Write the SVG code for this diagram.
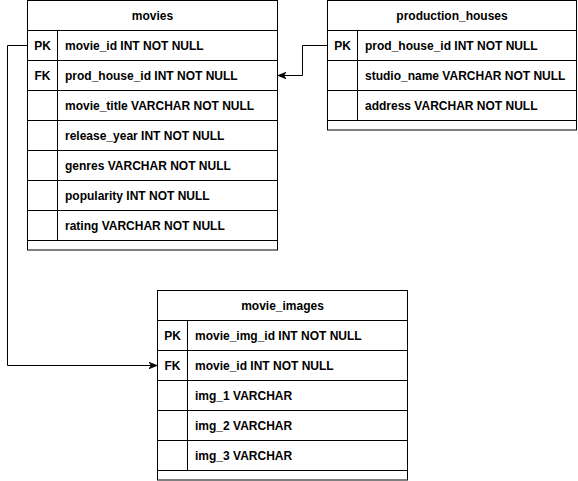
<svg xmlns="http://www.w3.org/2000/svg" width="578" height="481" viewBox="0 0 578 481">
<defs>
<style>
.box{fill:#fff;stroke:#000;stroke-width:1}
.ln{stroke:#000;stroke-width:1;fill:none}
text{font-family:"Liberation Sans",Arial,sans-serif;font-size:12px;font-weight:bold;fill:#000;dominant-baseline:central}
.h{text-anchor:middle}
.k{text-anchor:middle}
</style>
<marker id="arr" viewBox="0 0 10 10" refX="10" refY="5" markerWidth="8" markerHeight="8" markerUnits="userSpaceOnUse" orient="auto">
<path d="M0,1 L10,5 L0,9 L3,5 Z" fill="#000" stroke="#000" stroke-width="1"/>
</marker>
</defs>
<g id="connectors">
<path class="ln" d="M27.5,45.5 H7.5 V365.5 H157" marker-end="url(#arr)"/>
<path class="ln" d="M327.5,45.5 H302.5 V75.5 H278" marker-end="url(#arr)"/>
</g>
<g id="movies">
<rect class="box" x="27.5" y="0.5" width="250" height="249.5"/>
<path class="ln" d="M27.5,30.5 H277.5 M27.5,60.5 H277.5 M27.5,90.5 H277.5 M27.5,120.5 H277.5 M27.5,150.5 H277.5 M27.5,180.5 H277.5 M27.5,210.5 H277.5 M27.5,240.5 H277.5 M57.5,30.5 V240.5"/>
<text class="h" x="152.5" y="16">movies</text>
<text class="k" x="42.5" y="45.5">PK</text>
<text class="k" x="42.5" y="75.5">FK</text>
<text x="65" y="45.5">movie_id INT NOT NULL</text>
<text x="65" y="75.5">prod_house_id INT NOT NULL</text>
<text x="65" y="105.5">movie_title VARCHAR NOT NULL</text>
<text x="65" y="135.5">release_year INT NOT NULL</text>
<text x="65" y="165.5">genres VARCHAR NOT NULL</text>
<text x="65" y="195.5">popularity INT NOT NULL</text>
<text x="65" y="225.5">rating VARCHAR NOT NULL</text>
</g>
<g id="production_houses">
<rect class="box" x="327.5" y="0.5" width="249" height="129.5"/>
<path class="ln" d="M327.5,30.5 H576.5 M327.5,60.5 H576.5 M327.5,90.5 H576.5 M327.5,120.5 H576.5 M357.5,30.5 V120.5"/>
<text class="h" x="452" y="16">production_houses</text>
<text class="k" x="342.5" y="45.5">PK</text>
<text x="365" y="45.5">prod_house_id INT NOT NULL</text>
<text x="365" y="75.5">studio_name VARCHAR NOT NULL</text>
<text x="365" y="105.5">address VARCHAR NOT NULL</text>
</g>
<g id="movie_images">
<rect class="box" x="157.5" y="290.5" width="250" height="189.5"/>
<path class="ln" d="M157.5,320.5 H407.5 M157.5,350.5 H407.5 M157.5,380.5 H407.5 M157.5,410.5 H407.5 M157.5,440.5 H407.5 M157.5,470.5 H407.5 M187.5,320.5 V470.5"/>
<text class="h" x="282.5" y="306">movie_images</text>
<text class="k" x="172.5" y="335.5">PK</text>
<text class="k" x="172.5" y="365.5">FK</text>
<text x="195" y="335.5">movie_img_id INT NOT NULL</text>
<text x="195" y="365.5">movie_id INT NOT NULL</text>
<text x="195" y="395.5">img_1 VARCHAR</text>
<text x="195" y="425.5">img_2 VARCHAR</text>
<text x="195" y="455.5">img_3 VARCHAR</text>
</g>
</svg>
